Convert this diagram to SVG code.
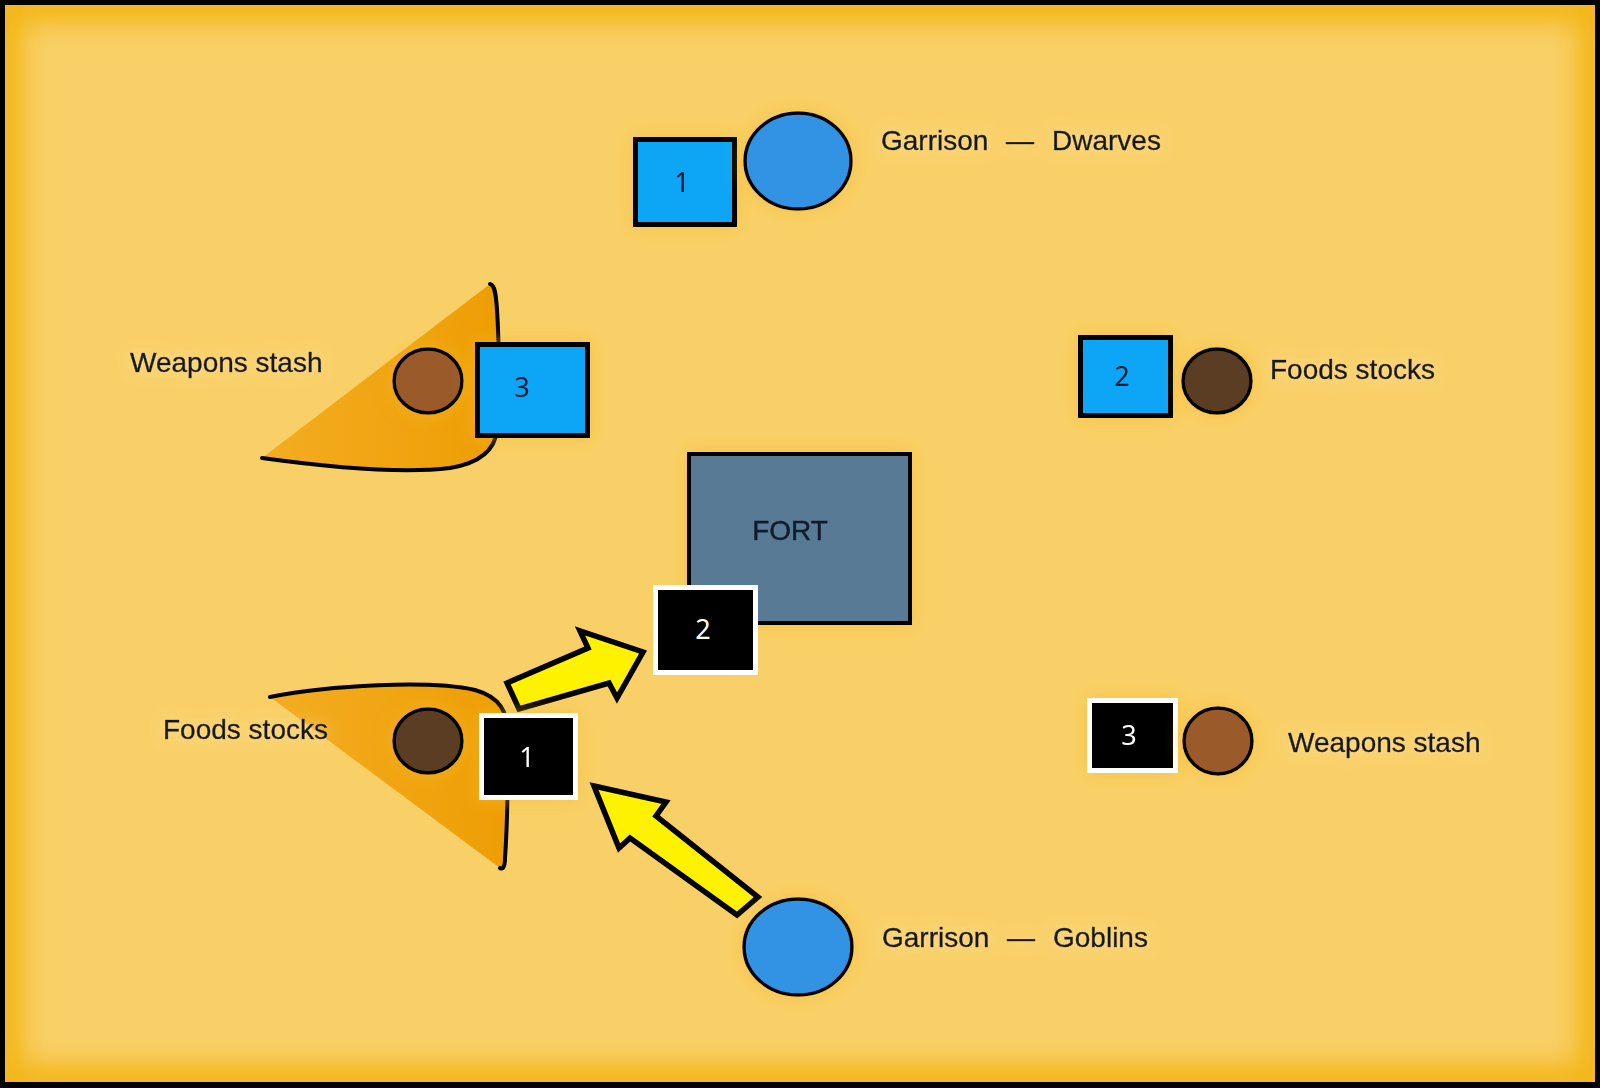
<svg xmlns="http://www.w3.org/2000/svg" width="1600" height="1088" viewBox="0 0 1600 1088">
<defs>
<style>
.lbl{font-family:"Liberation Sans",Arial,sans-serif;font-size:28px;fill:#161616;stroke:#161616;stroke-width:0.5}
.num{font-family:"Noto Sans","Open Sans",sans-serif;font-size:27px;text-anchor:middle}
.numB{fill:#0c1b33}
.numW{fill:#ffffff}
.bsq{fill:#0aa6f6;stroke:#000;stroke-width:5}
.ksq{fill:#000;stroke:#fff;stroke-width:5}
.gar{fill:#3093e5;stroke:#000;stroke-width:3.5}
.wpn{fill:#9b5a2b;stroke:#000;stroke-width:3.5}
.food{fill:#5a3d23;stroke:#000;stroke-width:3.5}
.arrow{fill:#fff200;stroke:#000;stroke-width:5.5;stroke-linejoin:miter}
.edge{fill:none;stroke:#000;stroke-width:4;stroke-linecap:round}
</style>
<clipPath id="inner"><rect x="5" y="5" width="1590" height="1077"/></clipPath>
<filter id="blurEdge" x="-10%" y="-10%" width="120%" height="120%"><feGaussianBlur stdDeviation="13"/></filter>
<filter id="halo" x="-30%" y="-30%" width="160%" height="160%">
<feGaussianBlur in="SourceAlpha" stdDeviation="9" result="b"/>
<feFlood flood-color="#f4b828" flood-opacity="0.6"/>
<feComposite in2="b" operator="in" result="g"/>
<feMerge><feMergeNode in="g"/><feMergeNode in="SourceGraphic"/></feMerge>
</filter>
<filter id="thalo" x="-20%" y="-60%" width="140%" height="220%">
<feGaussianBlur in="SourceAlpha" stdDeviation="7" result="b"/>
<feFlood flood-color="#fde4a8" flood-opacity="0.8"/>
<feComposite in2="b" operator="in" result="g"/>
<feMerge><feMergeNode in="g"/><feMergeNode in="SourceGraphic"/></feMerge>
</filter>
<linearGradient id="orng" x1="0" y1="0" x2="1" y2="0">
<stop offset="0" stop-color="#f3ac22"/>
<stop offset="1" stop-color="#ee9e04"/>
</linearGradient>
</defs>

<!-- background and frame -->
<rect x="0" y="0" width="1600" height="1088" fill="#000"/>
<rect x="5" y="5" width="1590" height="1077" fill="#f9d068"/>
<g clip-path="url(#inner)">
<rect x="5" y="5" width="1590" height="1077" fill="none" stroke="#f3b619" stroke-width="36" filter="url(#blurEdge)"/>
</g>

<!-- territory shapes -->
<g id="territory-upper">
<path d="M262,458 C320,466 400,474 450,468 C480,463 495,450 497,430 C499,390 499,340 497,310 C496,295 495,285 490,284 Z" fill="url(#orng)"/>
<path class="edge" d="M262,458 C320,466 400,474 450,468 C480,463 495,450 497,430 C499,390 499,340 497,310 C496,295 495,285 490,284"/>
</g>
<g id="territory-lower">
<path d="M270,697 C330,685 430,680 475,690 C500,697 508,712 508,735 C508,780 507,830 505,858 C505,866 503,870 500,868 Z" fill="url(#orng)"/>
<path class="edge" d="M270,697 C330,685 430,680 475,690 C500,697 508,712 508,735 C508,780 507,830 505,858 C505,866 503,870 500,868"/>
</g>

<!-- connectors -->
<g id="connectors">
<polygon class="arrow" points="507,683 588,648 580,631 643,652 617,698 609,683 519,709"/>
<polygon class="arrow" points="594,786 666,802 656,816 758,897 737,915 630,838 619,848"/>
</g>

<!-- nodes -->
<g id="fort" filter="url(#halo)">
<rect x="689" y="454" width="221" height="169" fill="#597a95" stroke="#000" stroke-width="4"/>
<text x="790" y="540" text-anchor="middle" style="font-family:'Liberation Sans',Arial,sans-serif;font-size:28px;fill:#101c2a;stroke:#101c2a;stroke-width:0.4">FORT</text>
</g>

<g id="dwarf-square-1" filter="url(#halo)">
<rect class="bsq" x="635.5" y="139.5" width="99" height="85"/>
<text class="num numB" x="682" y="192">1</text>
</g>
<g id="garrison-dwarves" filter="url(#halo)">
<ellipse class="gar" cx="798" cy="161" rx="53" ry="48"/>
</g>
<g id="label-garrison-dwarves" filter="url(#thalo)">
<text class="lbl" y="150"><tspan x="881">Garrison</tspan><tspan x="1006">—</tspan><tspan x="1052">Dwarves</tspan></text>
</g>

<g id="weapons-stash-left" filter="url(#halo)">
<ellipse class="wpn" cx="428" cy="381" rx="34" ry="32"/>
</g>
<g id="label-weapons-left" filter="url(#thalo)">
<text class="lbl" x="130" y="372">Weapons stash</text>
</g>
<g id="dwarf-square-3" filter="url(#halo)">
<rect class="bsq" x="477.5" y="344.5" width="110" height="91"/>
<text class="num numB" x="522" y="397">3</text>
</g>

<g id="dwarf-square-2" filter="url(#halo)">
<rect class="bsq" x="1080.5" y="337.5" width="90" height="78"/>
<text class="num numB" x="1122" y="386">2</text>
</g>
<g id="food-stocks-right" filter="url(#halo)">
<ellipse class="food" cx="1217" cy="381" rx="34" ry="32"/>
</g>
<g id="label-food-right" filter="url(#thalo)">
<text class="lbl" x="1270" y="379">Foods stocks</text>
</g>

<g id="goblin-square-2">
<rect class="ksq" x="655.5" y="587.5" width="100" height="85"/>
<text class="num numW" x="703" y="639">2</text>
</g>

<g id="food-stocks-left" filter="url(#halo)">
<ellipse class="food" cx="428" cy="741" rx="34" ry="32"/>
</g>
<g id="label-food-left" filter="url(#thalo)">
<text class="lbl" x="163" y="739">Foods stocks</text>
</g>
<g id="goblin-square-1" filter="url(#halo)">
<rect class="ksq" x="481.5" y="715.5" width="94" height="82"/>
<text class="num numW" x="527" y="767">1</text>
</g>

<g id="goblin-square-3" filter="url(#halo)">
<rect class="ksq" x="1089.5" y="700.5" width="86" height="70"/>
<text class="num numW" x="1129" y="745">3</text>
</g>
<g id="weapons-stash-right" filter="url(#halo)">
<ellipse class="wpn" cx="1218" cy="741" rx="34" ry="33"/>
</g>
<g id="label-weapons-right" filter="url(#thalo)">
<text class="lbl" x="1288" y="752">Weapons stash</text>
</g>

<g id="garrison-goblins" filter="url(#halo)">
<ellipse class="gar" cx="798" cy="947" rx="54" ry="48"/>
</g>
<g id="label-garrison-goblins" filter="url(#thalo)">
<text class="lbl" y="947"><tspan x="882">Garrison</tspan><tspan x="1007">—</tspan><tspan x="1053">Goblins</tspan></text>
</g>
</svg>
